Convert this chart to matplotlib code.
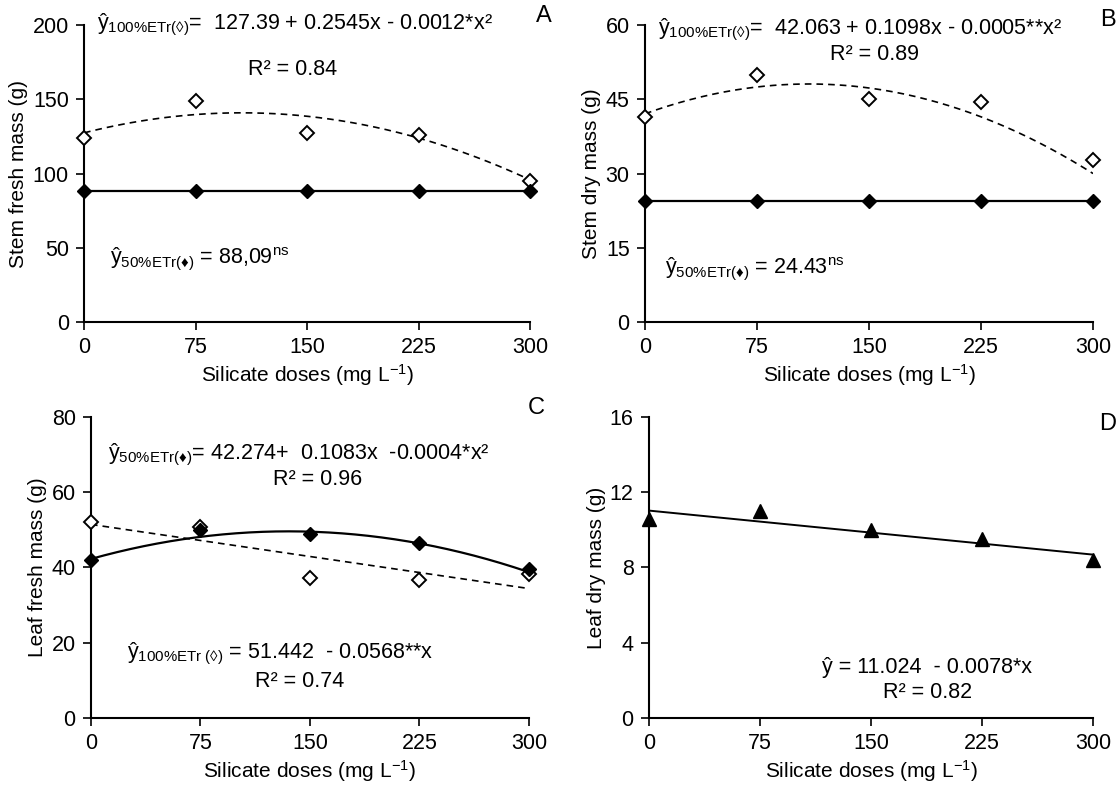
import numpy as np
import matplotlib
matplotlib.use("Agg")
import matplotlib.pyplot as plt

plt.rcParams['font.family'] = ['Liberation Sans', 'DejaVu Sans']
plt.rcParams['mathtext.fontset'] = 'custom'
plt.rcParams['mathtext.rm'] = 'Liberation Sans'
plt.rcParams['mathtext.it'] = 'Liberation Sans'
plt.rcParams['font.size'] = 15

# silicate doses (mg L-1)
doses = [0, 75, 150, 225, 300]

# A - stem fresh mass (g)
sfm_100 = [124, 149, 127, 126, 95]
sfm_50 = [88.09, 88.09, 88.09, 88.09, 88.09]
sfm_100_fit = [127.39, 0.2545, -0.0012]
sfm_50_fit = [88.09, 0, 0]

# B - stem dry mass (g)
sdm_100 = [41.5, 50.0, 45.0, 44.5, 32.7]
sdm_50 = [24.43, 24.43, 24.43, 24.43, 24.43]
sdm_100_fit = [42.063, 0.1098, -0.0005]
sdm_50_fit = [24.43, 0, 0]

# C - leaf fresh mass (g)
lfm_100 = [52.2, 50.7, 37.3, 36.8, 38.3]
lfm_50 = [42.0, 50.0, 49.0, 46.5, 39.6]
lfm_100_fit = [51.442, -0.0568, 0]
lfm_50_fit = [42.274, 0.1083, -0.0004]

# D - leaf dry mass (g)
ldm = [10.6, 11.0, 10.0, 9.5, 8.4]
ldm_fit = [11.024, -0.0078, 0]

xs = np.linspace(0, 300, 200)
EQ = 15.5


def fit_curve(coef):
    return coef[0] + coef[1] * xs + coef[2] * xs ** 2


def style_axis(ax, ymax, ystep, ylabel):
    ax.set_xlim(0, 300)
    ax.set_ylim(0, ymax)
    ax.set_xticks(doses)
    ax.set_yticks(np.arange(0, ymax + 0.1, ystep))
    for s in ['top', 'right']:
        ax.spines[s].set_visible(False)
    for s in ['left', 'bottom']:
        ax.spines[s].set_linewidth(1.5)
    ax.tick_params(direction='out', length=6, width=1.2, labelsize=15.5, pad=5)
    ax.set_xlabel('Silicate doses (mg L$^{\\mathregular{-1}}$)', fontsize=15, labelpad=3)
    ax.set_ylabel(ylabel, fontsize=15, labelpad=3)


def open_pts(ax, y):
    ax.plot(doses, y, linestyle='none', marker='D', ms=7, mfc='white', mec='black',
            mew=1.4, clip_on=False, zorder=4)


def filled_pts(ax, y):
    ax.plot(doses, y, linestyle='none', marker='D', ms=7.5, mfc='black', mec='black',
            clip_on=False, zorder=5)


fig = plt.figure(figsize=(11.19, 7.9), dpi=100)
axA = fig.add_axes([0.0751, 0.5924, 0.3986, 0.3759])
axB = fig.add_axes([0.5764, 0.5924, 0.4004, 0.3759])
axC = fig.add_axes([0.0813, 0.0911, 0.3914, 0.3811])
axD = fig.add_axes([0.5800, 0.0911, 0.3968, 0.3811])

dash = (0, (4, 3))

# A
axA.plot(xs, fit_curve(sfm_100_fit), color='black', lw=1.2, linestyle=dash)
axA.plot(xs, fit_curve(sfm_50_fit), color='black', lw=1.6)
open_pts(axA, sfm_100)
filled_pts(axA, sfm_50)
style_axis(axA, 200, 50, 'Stem fresh mass (g)')
axA.text(8.7, 200, 'ŷ$_{\\mathregular{100\\%ETr(◊)}}$=  127.39 + 0.2545x - 0.0012*x²',
         va='center', fontsize=EQ)
axA.text(140, 170, 'R² = 0.84', ha='center', va='center', fontsize=EQ)
axA.text(17.5, 43, 'ŷ$_{\\mathregular{50\\%ETr(♦)}}$ = 88,09$^{\\mathregular{ns}}$',
         va='center', fontsize=EQ)
axA.text(309, 206, 'A', fontsize=17, va='center', ha='center')

# B
axB.plot(xs, fit_curve(sdm_100_fit), color='black', lw=1.2, linestyle=dash)
axB.plot(xs, fit_curve(sdm_50_fit), color='black', lw=1.6)
open_pts(axB, sdm_100)
filled_pts(axB, sdm_50)
style_axis(axB, 60, 15, 'Stem dry mass (g)')
axB.text(8.7, 59, 'ŷ$_{\\mathregular{100\\%ETr(◊)}}$=  42.063 + 0.1098x - 0.0005**x²',
         va='center', fontsize=EQ)
axB.text(154, 54, 'R² = 0.89', ha='center', va='center', fontsize=EQ)
axB.text(13.4, 10.9, 'ŷ$_{\\mathregular{50\\%ETr(♦)}}$ = 24.43$^{\\mathregular{ns}}$',
         va='center', fontsize=EQ)
axB.text(310, 61, 'B', fontsize=17, va='center', ha='center')

# C
axC.plot(xs, fit_curve(lfm_100_fit), color='black', lw=1.2, linestyle=dash)
axC.plot(xs, fit_curve(lfm_50_fit), color='black', lw=1.6)
open_pts(axC, lfm_100)
filled_pts(axC, lfm_50)
style_axis(axC, 80, 20, 'Leaf fresh mass (g)')
axC.text(11.6, 70, 'ŷ$_{\\mathregular{50\\%ETr(♦)}}$= 42.274+  0.1083x  -0.0004*x²',
         va='center', fontsize=EQ)
axC.text(155, 63.3, 'R² = 0.96', ha='center', va='center', fontsize=EQ)
axC.text(25, 17, 'ŷ$_{\\mathregular{100\\%ETr\\ (◊)}}$ = 51.442  - 0.0568**x',
         va='center', fontsize=EQ)
axC.text(143, 9.8, 'R² = 0.74', ha='center', va='center', fontsize=EQ)
axC.text(305, 82.4, 'C', fontsize=17, va='center', ha='center')

# D
axD.plot(xs, fit_curve(ldm_fit), color='black', lw=1.4)
axD.plot(doses, ldm, linestyle='none', marker='^', ms=10, mfc='black', mec='black',
         clip_on=False, zorder=5)
style_axis(axD, 16, 4, 'Leaf dry mass (g)')
axD.text(188, 2.7, 'ŷ = 11.024  - 0.0078*x', ha='center', va='center', fontsize=EQ)
axD.text(188, 1.35, 'R² = 0.82', ha='center', va='center', fontsize=EQ)
axD.text(310, 15.6, 'D', fontsize=17, va='center', ha='center')

plt.savefig('out.png', dpi=100)
